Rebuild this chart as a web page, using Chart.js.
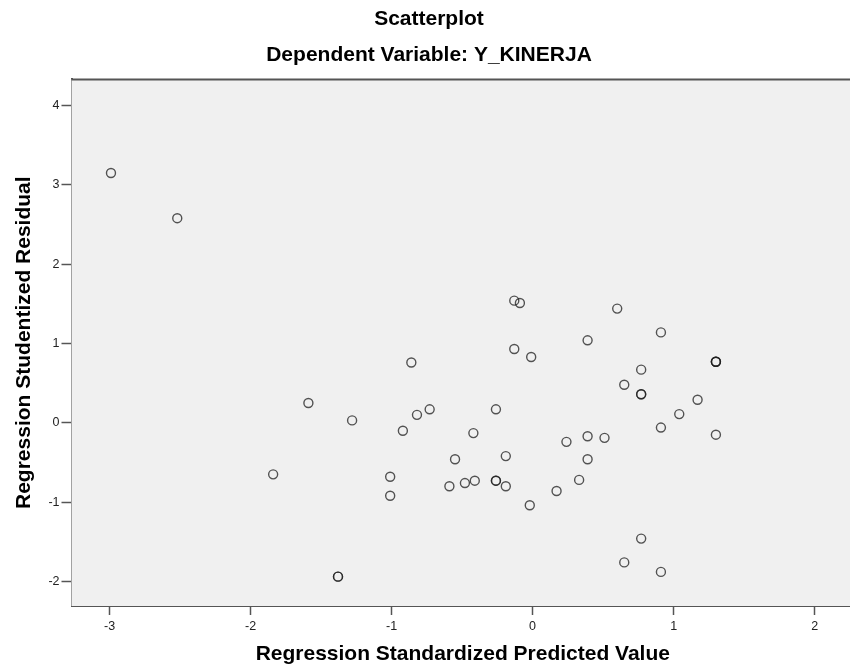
<!DOCTYPE html>
<html>
<head>
<meta charset="utf-8">
<script src="https://cdn.jsdelivr.net/npm/chart.js@4.4.1/dist/chart.umd.min.js"></script>
<style>
  html, body { margin: 0; padding: 0; background: #fff; overflow: hidden; }
  #wrap { width: 860px; height: 672px; }
</style>
</head>
<body>
<div id="wrap"><canvas id="scatter" width="860" height="672"></canvas></div>
<script>
// ==========================
// PODACI
// ==========================
var predValues  = [-2.99, -2.52, -1.59, -1.28, -1.84, -1.38, -1.38, -1.01, -1.01, -0.86,
                   -0.92, -0.82, -0.73, -0.55, -0.59, -0.48, -0.41, -0.42, -0.26, -0.26,
                   -0.26, -0.19, -0.19, -0.13, -0.09, -0.13, -0.01, -0.02, 0.17, 0.24,
                    0.33, 0.39, 0.39, 0.39, 0.51, 0.60, 0.65, 0.65, 0.77, 0.77,
                    0.77, 0.77, 0.91, 0.91, 0.91, 1.04, 1.17, 1.30, 1.30, 1.30, 1.30];
var residValues = [3.15, 2.58, 0.25, 0.03, -0.65, -1.94, -1.94, -0.68, -0.92, 0.76,
                   -0.10, 0.10, 0.17, -0.46, -0.80, -0.76, -0.73, -0.13, -0.73, -0.73,
                    0.17, -0.42, -0.80, 1.54, 1.51, 0.93, 0.83, -1.04, -0.86, -0.24,
                   -0.72, 1.04, -0.17, -0.46, -0.19, 1.44, 0.48, -1.76, 0.67, 0.36,
                    0.36, -1.46, 1.14, -0.06, -1.88, 0.11, 0.29, 0.77, 0.77, 0.77, -0.15];

var xTicks = [-3, -2, -1, 0, 1, 2];
var yTicks = [-2, -1, 0, 1, 2, 3, 4];

var points = predValues.map(function(v, i) { return { x: v, y: residValues[i] }; });

// ==========================
// POZADINA PLOTA
// ==========================
var plotFrame = {
  id: 'plotFrame',
  beforeDatasetsDraw: function(chart) {
    var a = chart.chartArea;
    var ctx = chart.ctx;
    ctx.save();
    ctx.fillStyle = '#f0f0f0';
    ctx.fillRect(a.left, a.top, a.right - a.left, a.bottom - a.top);
    ctx.strokeStyle = '#555';
    ctx.lineWidth = 2;
    ctx.beginPath();
    ctx.moveTo(a.left, a.top);
    ctx.lineTo(a.right, a.top);
    ctx.stroke();
    ctx.restore();
  }
};

var tickFont  = { family: 'Liberation Sans, Arial, sans-serif', size: 12.5 };
var titleFont = { family: 'Liberation Sans, Arial, sans-serif', size: 21, weight: 'bold' };

// ==========================
// GRAFIK
// ==========================
new Chart(document.getElementById('scatter'), {
  type: 'scatter',
  data: {
    datasets: [{
      data:            points,
      pointStyle:      'circle',
      pointRadius:     4.5,
      pointHoverRadius: 4.5,
      backgroundColor: 'rgba(0,0,0,0)',
      borderColor:     'rgba(30,30,30,0.75)',
      borderWidth:     1.4
    }]
  },
  plugins: [plotFrame],
  options: {
    responsive: false,
    animation: false,
    layout: { padding: { top: 0, right: 2, bottom: 0, left: 0 } },
    plugins: {
      legend:  { display: false },
      tooltip: { enabled: false },
      title: {
        display: true,
        text: 'Scatterplot',
        color: '#000',
        font: titleFont,
        padding: { top: 7, bottom: 4 }
      },
      subtitle: {
        display: true,
        text: 'Dependent Variable: Y_KINERJA',
        color: '#000',
        font: titleFont,
        padding: { top: 6, bottom: 12 }
      }
    },
    scales: {
      x: {
        type: 'linear',
        min: -3.27,
        max: 2.28,
        afterBuildTicks: function(axis) {
          axis.ticks = xTicks.map(function(v) { return { value: v }; });
        },
        afterFit: function(axis) { axis.height = 66; },
        ticks: {
          color: '#222',
          font: tickFont,
          padding: 4,
          maxRotation: 0,
          callback: function(v) { return String(v); }
        },
        grid: {
          drawOnChartArea: false,
          drawTicks: true,
          tickLength: 9,
          tickWidth: 1.5,
          tickColor: '#555'
        },
        border: { display: true, color: '#555', width: 2 },
        title: {
          display: true,
          text: 'Regression Standardized Predicted Value',
          color: '#000',
          font: titleFont,
          padding: { top: 0, bottom: 5 }
        }
      },
      y: {
        type: 'linear',
        min: -2.31,
        max: 4.33,
        afterBuildTicks: function(axis) {
          axis.ticks = yTicks.map(function(v) { return { value: v }; });
        },
        afterFit: function(axis) { axis.width = 71.5; },
        ticks: {
          color: '#222',
          font: tickFont,
          padding: 2,
          callback: function(v) { return String(v); }
        },
        grid: {
          drawOnChartArea: false,
          drawTicks: true,
          tickLength: 10,
          tickWidth: 1.5,
          tickColor: '#555'
        },
        border: { display: true, color: '#555', width: 2 },
        title: {
          display: true,
          text: 'Regression Studentized Residual',
          color: '#000',
          font: titleFont,
          padding: { top: 12, bottom: 0 }
        }
      }
    }
  }
});
</script>
</body>
</html>
